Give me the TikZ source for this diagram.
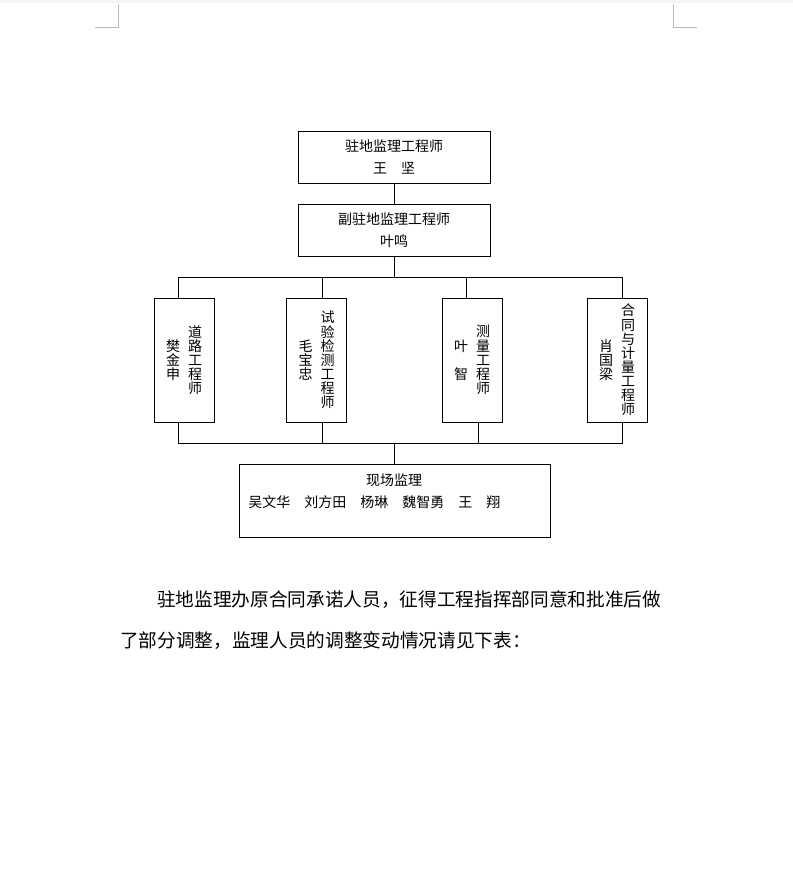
\documentclass[tikz,border=0pt]{standalone}
\usepackage{fontspec}
\newfontfamily\cjk{Noto Sans CJK SC}
\usepackage{tikz}
\usetikzlibrary{calc}
\tikzset{>=latex}
\tikzset{
  wire/.style={line width=0.75pt},
  post/.style={draw, wire, inner sep=0pt, align=center,
    font=\cjk\fontsize{10.5}{16.5}\selectfont},
  widepost/.style={post, minimum width=144pt, minimum height=39pt},
  tallpost/.style={post, minimum width=45pt, minimum height=93pt},
  cropline/.style={draw=gray!55, line width=0.75pt},
}
\newcommand{\vcol}[1]{\parbox[c]{12pt}{\centering\fontsize{10.5}{10.6}\selectfont #1}}

\begin{document}
\begin{tikzpicture}[x=0.75pt, y=-0.75pt]
            \fill[white] (0,0) rectangle (793,879);
            \useasboundingbox (0,0) rectangle (793,879);
            \fill[gray!8] (0,0) rectangle (793,3);
            \draw[cropline] (95,27) -- (118.5,27) -- (118.5,4);
            \draw[cropline] (697,27) -- (673.5,27) -- (673.5,4);

            \node[widepost] (chief) at (394,157) {驻地监理工程师\\王　坚};
            \node[widepost] (deputy) at (394,230) {副驻地监理工程师\\叶鸣};

            \node[tallpost] (road) at (184,360) {\vcol{樊\\金\\申}\hspace{4.5pt}\vcol{道\\路\\工\\程\\师}};
            \node[tallpost] (test) at (316.5,360) {\vcol{毛\\宝\\忠}\hspace{4.5pt}\vcol{试\\验\\检\\测\\工\\程\\师}};
            \node[tallpost] (survey) at (472,360) {\vcol{叶\\　\\智}\hspace{4.5pt}\vcol{测\\量\\工\\程\\师}};
            \node[tallpost] (cost) at (617,360) {\vcol{肖\\国\\梁}\hspace{4.5pt}\vcol{合\\同\\与\\计\\量\\工\\程\\师}};

            \node[post, minimum width=233.25pt, minimum height=54.75pt] (site) at (394.5,500.5) {};
            \node[font=\cjk\fontsize{10.5}{10.5}\selectfont, inner sep=0pt] (sitehead) at (394,480) {现场监理};
            \node[font=\cjk\fontsize{10.5}{10.5}\selectfont, inner sep=0pt, anchor=west] (sitenames) at (248,502) {吴文华　刘方田　杨琳　魏智勇　王　翔};

            \coordinate (topbus) at (394,277);
            \coordinate (ta) at (178,277);
            \coordinate (tb) at (322,277);
            \coordinate (tc) at (466,277);
            \coordinate (td) at (622,277);
            \coordinate (lowbus) at (394,443);
            \coordinate (ba) at (178,443);
            \coordinate (bb) at (322,443);
            \coordinate (bc) at (478,443);
            \coordinate (bd) at (622,443);

            \draw[wire] (chief) -- (deputy);
            \draw[wire] (deputy) -- (topbus);
            \draw[wire] (ta |- road.north) -- (ta) -- (td) -- (td |- cost.north);
            \draw[wire] (tb) -- (tb |- test.north);
            \draw[wire] (tc) -- (tc |- survey.north);
            \draw[wire] (ba |- road.south) -- (ba) -- (bd) -- (bd |- cost.south);
            \draw[wire] (bb) -- (bb |- test.south);
            \draw[wire] (bc) -- (bc |- survey.south);
            \draw[wire] (lowbus) -- (lowbus |- site.north);

            \node[font=\cjk\fontsize{14}{14}\selectfont, inner sep=0pt, anchor=west] (para1) at (157,600) {驻地监理办原合同承诺人员，征得工程指挥部同意和批准后做};
            \node[font=\cjk\fontsize{14}{14}\selectfont, inner sep=0pt, anchor=west] (para2) at (120,641) {了部分调整，监理人员的调整变动情况请见下表：};

        \end{tikzpicture}
\end{document}
